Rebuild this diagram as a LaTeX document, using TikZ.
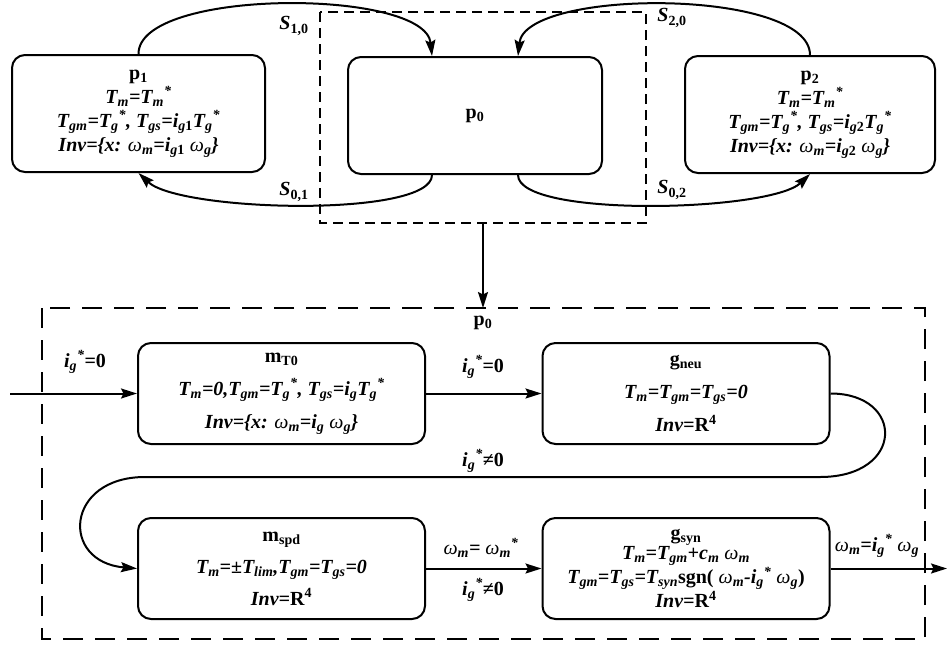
\documentclass[tikz,border=0pt]{standalone}
\usepackage{fontspec}
\setmainfont{Liberation Serif}
\usetikzlibrary{arrows.meta,calc}
\newcommand\sbx[1]{\textsubscript{#1}}
\newcommand\spx[1]{\textsuperscript{#1}}
\newcommand\om{{\mdseries ω}}
\begin{document}
\begin{tikzpicture}[x=1pt,y=-1pt,
  box/.style={draw,line width=2pt,rounded corners=13pt,inner sep=2pt,align=center,
    font=\bfseries\itshape\fontsize{20}{24}\selectfont},
  lbox/.style={box,minimum width=287pt,minimum height=101pt},
  tbox/.style={box,minimum height=117pt},
  lbl/.style={font=\bfseries\itshape\fontsize{20}{20}\selectfont,inner sep=1pt},
  conn/.style={line width=2pt,-{Stealth[length=16pt,width=10pt,inset=2.5pt]}},
  frameA/.style={line width=1.4pt,dash pattern=on 10pt off 6pt},
  frameB/.style={line width=1.4pt,dash pattern=on 20pt off 12pt}]
\useasboundingbox (0,0) rectangle (947,646);
% top row
\node[tbox,minimum width=253pt] (p1) at (138.5,113.5)
 {{\upshape p\sbx{1}}\\
  T\sbx{m}=T\sbx{m}\spx{*}\\
  T\sbx{gm}=T\sbx{g}\spx{*}, T\sbx{gs}=i\sbx{g{\upshape 1}}T\sbx{g}\spx{*}\\
  Inv=\{x: \om\sbx{m}=i\sbx{g{\upshape 1}} \om\sbx{g}\}};
\node[tbox,minimum width=254pt] (p0) at (475,115.5) {{\upshape p\sbx{0}}};
\node[tbox,minimum width=250pt] (p2) at (810,114.5)
 {{\upshape p\sbx{2}}\\
  T\sbx{m}=T\sbx{m}\spx{*}\\
  T\sbx{gm}=T\sbx{g}\spx{*}, T\sbx{gs}=i\sbx{g{\upshape 2}}T\sbx{g}\spx{*}\\
  Inv=\{x: \om\sbx{m}=i\sbx{g{\upshape 2}} \om\sbx{g}\}};
\coordinate (fa1) at (320,12);
\coordinate (fa2) at (646,223);
\draw[frameA] (fa1) rectangle (fa2);
\draw[conn] (p1.north) .. controls (138,-12) and (425,-12) .. ($(p0.north)+(-43,0)$);
\draw[conn] (p2.north) .. controls (810,-12) and (525,-12) .. ($(p0.north)+(43,0)$);
\draw[conn] ($(p0.south)+(-43,0)$) .. controls (432,218) and (180,212) .. (p1.south);
\draw[conn] ($(p0.south)+(43,0)$) .. controls (518,218) and (770,212) .. (p2.south);
\node[lbl] (s10) at (294,26) {S\sbx{\upshape 1,0}};
\node[lbl] (s01) at (294,192) {S\sbx{\upshape 0,1}};
\node[lbl] (s20) at (672,18) {S\sbx{\upshape 2,0}};
\node[lbl] (s02) at (672,190) {S\sbx{\upshape 0,2}};
% link
\coordinate (fat) at (483,223);
\coordinate (fbt) at (483,308);
\draw[conn] (fat) -- (fbt);
% lower frame
\coordinate (fb1) at (42,308);
\coordinate (fb2) at (925,639);
\draw[frameB] (fb1) rectangle (fb2);
\node[lbl,font=\bfseries\fontsize{20}{20}\selectfont] (p0l) at (483,323) {p\sbx{0}};
\node[lbox,font=\bfseries\itshape\fontsize{20}{33}\selectfont] (mT0) at (281.5,393.5)
 {{\upshape m\sbx{T0}}\\
  T\sbx{m}=0,T\sbx{gm}=T\sbx{g}\spx{*}, T\sbx{gs}=i\sbx{g}T\sbx{g}\spx{*}\\
  Inv=\{x: \om\sbx{m}=i\sbx{g} \om\sbx{g}\}};
\node[lbox,font=\bfseries\itshape\fontsize{20}{33}\selectfont] (gneu) at (686,393.5)
 {{\upshape g\sbx{neu}}\\
  T\sbx{m}=T\sbx{gm}=T\sbx{gs}=0\\
  Inv={\upshape R\spx{4}}};
\node[lbox,font=\bfseries\itshape\fontsize{20}{32}\selectfont] (mspd) at (281.5,568.5)
 {{\upshape m\sbx{spd}}\\
  T\sbx{m}=±T\sbx{lim},T\sbx{gm}=T\sbx{gs}=0\\
  Inv={\upshape R\spx{4}}};
\node[lbox,font=\bfseries\itshape\fontsize{20}{19}\selectfont] (gsyn) at (686,568.5)
 {{\upshape g\sbx{syn}}\\
  T\sbx{m}=T\sbx{gm}+c\sbx{m} \om\sbx{m}\\
  T\sbx{gm}=T\sbx{gs}=T\sbx{syn}{\upshape sgn(} \om\sbx{m}-i\sbx{g}\spx{*} \om\sbx{g}{\upshape )}\\
  Inv={\upshape R\spx{4}}};
% lower connectors
\coordinate (in) at (10,393.5);
\coordinate (out) at (947,568.5);
\draw[conn] (in) -- (mT0.west);
\draw[conn] (mT0.east) -- (gneu.west);
\draw[conn] (gneu.east) .. controls (905,393.5) and (905,477) .. (820,477)
  -- (145,477) .. controls (65,477) and (60,562) .. (mspd.west);
\draw[conn] (mspd.east) -- (gsyn.west);
\draw[conn] (gsyn.east) -- (out);
\node[lbl] (l1) at (85,362) {i\sbx{g}\spx{*}{\upshape =0}};
\node[lbl] (l2) at (483,367) {i\sbx{g}\spx{*}{\upshape =0}};
\node[lbl] (l3) at (483,461) {i\sbx{g}\spx{*}{\upshape ≠0}};
\node[lbl] (l4) at (481,548) {\om\sbx{m}= \om\sbx{m}\spx{*}};
\node[lbl] (l5) at (483,590) {i\sbx{g}\spx{*}{\upshape ≠0}};
\node[lbl] (l6) at (877,546) {\om\sbx{m}=i\sbx{g}\spx{*} \om\sbx{g}};
\end{tikzpicture}
\end{document}
